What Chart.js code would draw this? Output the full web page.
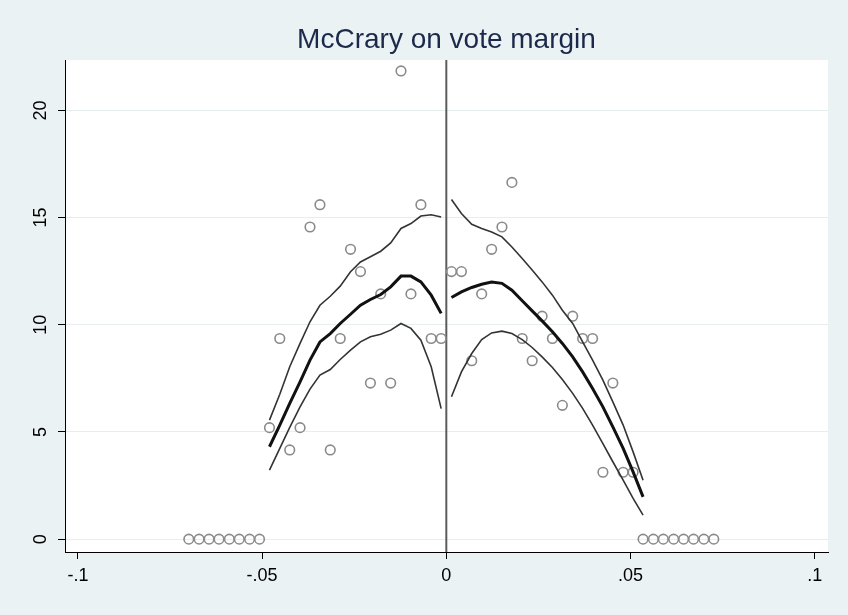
<!DOCTYPE html>
<html>
<head>
<meta charset="utf-8">
<title>McCrary on vote margin</title>
<script src="https://cdn.jsdelivr.net/npm/chart.js@4.4.1/dist/chart.umd.min.js"></script>
<style>
  html, body { margin: 0; padding: 0; background: #eaf2f3; }
  #wrap { width: 848px; height: 615px; }
</style>
</head>
<body>
<div id="wrap"><canvas id="c" width="848" height="615"></canvas></div>
<script>
// Histogram bins (vote margin) and their density heights, left of the cutoff
const binsLeft = [-0.0699, -0.0671, -0.0644, -0.0617, -0.0589, -0.0562, -0.0534, -0.0507,
                  -0.0480, -0.0452, -0.0425, -0.0397, -0.0370, -0.0343, -0.0315, -0.0288,
                  -0.0260, -0.0233, -0.0206, -0.0178, -0.0151, -0.0123, -0.0096, -0.0069,
                  -0.0041, -0.0014];
const densityLeft = [0, 0, 0, 0, 0, 0, 0, 0,
                     5.2, 9.36, 4.16, 5.2, 14.56, 15.6, 4.16, 9.36,
                     13.52, 12.48, 7.28, 11.44, 7.28, 21.84, 11.44, 15.6,
                     9.36, 9.36];

// Right of the cutoff
const binsRight = [0.0014, 0.0041, 0.0069, 0.0096, 0.0123, 0.0151, 0.0178, 0.0206,
                   0.0233, 0.0260, 0.0288, 0.0315, 0.0343, 0.0370, 0.0397, 0.0425,
                   0.0452, 0.0480, 0.0507, 0.0534, 0.0562, 0.0589, 0.0617, 0.0644,
                   0.0671, 0.0699, 0.0726];
const densityRight = [12.48, 12.48, 8.32, 11.44, 13.52, 14.56, 16.64, 9.36,
                      8.32, 10.4, 9.36, 6.24, 10.4, 9.36, 9.36, 3.12,
                      7.28, 3.12, 3.12, 0, 0, 0, 0, 0,
                      0, 0, 0];

// Local linear density fit with confidence band, left side
const fitLeftX = [-0.0480, -0.0452, -0.0425, -0.0397, -0.0370, -0.0343, -0.0315, -0.0288,
                  -0.0260, -0.0233, -0.0206, -0.0178, -0.0151, -0.0123, -0.0096, -0.0069,
                  -0.0041, -0.0014];
const fitLeft = [4.31, 5.32, 6.33, 7.34, 8.35, 9.20, 9.59, 10.06, 10.49, 10.91, 11.18, 11.41,
                 11.77, 12.27, 12.27, 12.00, 11.38, 10.53];
const ciLeftHi = [5.55, 6.76, 8.04, 9.13, 10.14, 10.91, 11.33, 11.80, 12.47, 12.93, 13.17, 13.43,
                  13.82, 14.49, 14.72, 15.07, 15.13, 15.03];
const ciLeftLo = [3.22, 4.23, 5.21, 6.17, 7.00, 7.65, 7.91, 8.38, 8.82, 9.20, 9.44, 9.56,
                  9.75, 10.06, 9.83, 9.28, 8.04, 6.09];

// Right side
const fitRightX = [0.0014, 0.0041, 0.0069, 0.0096, 0.0123, 0.0151, 0.0178, 0.0206,
                   0.0233, 0.0260, 0.0288, 0.0315, 0.0343, 0.0370, 0.0397, 0.0425,
                   0.0452, 0.0480, 0.0507, 0.0534];
const fitRight = [11.27, 11.53, 11.74, 11.89, 11.99, 11.93, 11.61, 11.12, 10.65, 10.18,
                  9.67, 9.13, 8.50, 7.80, 7.03, 6.17, 5.24, 4.23, 3.14, 1.97];
const ciRightHi = [15.84, 15.19, 14.69, 14.49, 14.33, 14.10, 13.63, 13.09, 12.55, 12.00,
                   11.38, 10.68, 10.06, 9.20, 8.35, 7.42, 6.40, 5.32, 4.07, 2.75];
const ciRightLo = [6.64, 7.80, 8.66, 9.31, 9.62, 9.70, 9.59, 9.31, 8.94, 8.50,
                   8.01, 7.45, 6.80, 6.10, 5.32, 4.46, 3.61, 2.75, 1.90, 1.12];

// Axis ticks
const xTickValues = [-0.1, -0.05, 0, 0.05, 0.1];
const xTickLabels = ['-.1', '-.05', '0', '.05', '.1'];
const yTickValues = [0, 5, 10, 15, 20];
const yTickLabels = ['0', '5', '10', '15', '20'];
const cutoff = 0;
const titleText = 'McCrary on vote margin';

const FONT = '"Liberation Sans", Arial, Helvetica, sans-serif';

const pts = (xs, ys) => xs.map((x, i) => ({ x: x, y: ys[i] }));

const lineSet = (xs, ys, width, color) => ({
  data: pts(xs, ys),
  showLine: true,
  borderColor: color,
  borderWidth: width,
  pointRadius: 0,
  fill: false,
  tension: 0
});

const pointSet = (xs, ys) => ({
  data: pts(xs, ys),
  showLine: false,
  pointStyle: 'circle',
  pointRadius: 4.8,
  pointBorderWidth: 1.6,
  pointBorderColor: '#8a8a8a',
  pointBackgroundColor: 'rgba(0,0,0,0)',
  borderColor: '#8a8a8a',
  backgroundColor: 'rgba(0,0,0,0)'
});

// Background panels, cutoff line, title and rotated y labels
const decor = {
  id: 'decor',
  beforeDraw(chart) {
    const ctx = chart.ctx, a = chart.chartArea;
    ctx.save();
    ctx.fillStyle = '#eaf2f3';
    ctx.fillRect(0, 0, chart.width, chart.height);
    ctx.fillStyle = '#ffffff';
    ctx.fillRect(a.left, a.top, a.right - a.left, a.bottom - a.top);
    ctx.restore();
  },
  beforeDatasetsDraw(chart) {
    const ctx = chart.ctx, a = chart.chartArea;
    const px = chart.scales.x.getPixelForValue(cutoff);
    ctx.save();
    ctx.strokeStyle = '#5c5c5c';
    ctx.lineWidth = 2;
    ctx.beginPath();
    ctx.moveTo(px, a.top);
    ctx.lineTo(px, a.bottom);
    ctx.stroke();
    ctx.restore();
  },
  afterDraw(chart) {
    const ctx = chart.ctx, a = chart.chartArea;
    ctx.save();
    ctx.fillStyle = '#1b2a4a';
    ctx.font = '28px ' + FONT;
    ctx.textAlign = 'center';
    ctx.textBaseline = 'middle';
    ctx.fillText(titleText, (a.left + a.right) / 2, 40);

    ctx.fillStyle = '#000000';
    ctx.font = '18px ' + FONT;
    const ys = chart.scales.y;
    yTickValues.forEach((v, i) => {
      ctx.save();
      ctx.translate(41, ys.getPixelForValue(v));
      ctx.rotate(-Math.PI / 2);
      ctx.textAlign = 'center';
      ctx.textBaseline = 'middle';
      ctx.fillText(yTickLabels[i], 0, 0);
      ctx.restore();
    });
    ctx.restore();
  }
};

new Chart(document.getElementById('c'), {
  type: 'scatter',
  data: {
    datasets: [
      lineSet(fitLeftX, fitLeft, 3, '#111111'),
      lineSet(fitLeftX, ciLeftHi, 1.6, '#333333'),
      lineSet(fitLeftX, ciLeftLo, 1.6, '#333333'),
      lineSet(fitRightX, fitRight, 3, '#111111'),
      lineSet(fitRightX, ciRightHi, 1.6, '#333333'),
      lineSet(fitRightX, ciRightLo, 1.6, '#333333'),
      pointSet(binsLeft, densityLeft),
      pointSet(binsRight, densityRight)
    ]
  },
  options: {
    responsive: false,
    devicePixelRatio: 1,
    animation: false,
    layout: { padding: { top: 60, right: 20, left: 0, bottom: 0 } },
    plugins: {
      legend: { display: false },
      title: { display: false },
      tooltip: { enabled: false }
    },
    scales: {
      x: {
        type: 'linear',
        min: -0.1035,
        max: 0.1036,
        afterBuildTicks: s => { s.ticks = xTickValues.map(v => ({ value: v })); },
        afterFit: s => { s.height = 63; },
        ticks: {
          autoSkip: false,
          maxRotation: 0,
          minRotation: 0,
          padding: 6,
          color: '#000000',
          font: { family: FONT, size: 18 },
          callback: (v, i) => xTickLabels[i]
        },
        grid: {
          drawOnChartArea: false,
          drawTicks: true,
          tickLength: 7,
          tickColor: '#000000',
          tickWidth: 1
        },
        border: { display: true, color: '#000000', width: 1 }
      },
      y: {
        type: 'linear',
        min: -0.6,
        max: 22.35,
        afterBuildTicks: s => { s.ticks = yTickValues.map(v => ({ value: v })); },
        afterFit: s => { s.width = 65; },
        ticks: { display: false },
        grid: {
          color: '#e6eef0',
          lineWidth: 1,
          drawTicks: true,
          tickLength: 7,
          tickColor: '#000000',
          tickWidth: 1
        },
        border: { display: true, color: '#000000', width: 1 }
      }
    }
  },
  plugins: [decor]
});
</script>
</body>
</html>
